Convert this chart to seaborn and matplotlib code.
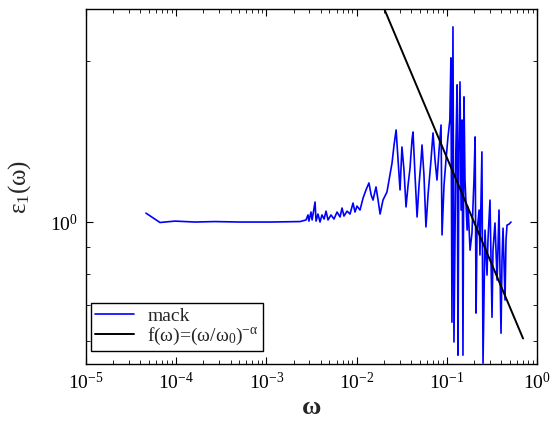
import matplotlib
matplotlib.use("Agg")
import matplotlib.pyplot as plt
import matplotlib.ticker as mticker
import seaborn as sns
import pandas as pd

omega = [4.62e-5, 6.61e-5, 9.7e-5, 1.61e-4, 2.69e-4, 5.09e-4, 1.10e-3, 2.36e-3,
         2.75e-3, 2.89e-3, 2.96e-3, 3.12e-3, 3.21e-3, 3.46e-3, 3.55e-3, 3.73e-3,
         3.93e-3, 4.13e-3, 4.36e-3, 4.58e-3, 4.82e-3, 5.20e-3, 5.61e-3, 6.07e-3,
         6.55e-3, 6.89e-3, 7.24e-3, 7.83e-3, 8.45e-3, 9.12e-3, 9.59e-3, 1.01e-2,
         1.09e-2, 1.18e-2, 1.27e-2, 1.37e-2, 1.45e-2, 1.52e-2, 1.64e-2, 1.73e-2,
         1.82e-2, 1.96e-2, 2.17e-2, 2.34e-2, 2.47e-2, 2.60e-2, 2.74e-2, 2.88e-2,
         3.03e-2, 3.18e-2, 3.35e-2, 3.53e-2, 3.72e-2, 3.91e-2, 4.11e-2, 4.22e-2,
         4.44e-2, 4.68e-2, 4.92e-2, 5.18e-2, 5.31e-2, 5.58e-2, 5.87e-2, 6.19e-2,
         6.68e-2, 7.03e-2, 7.40e-2, 7.78e-2, 8.20e-2, 8.63e-2, 8.85e-2, 9.31e-2,
         9.79e-2, 0.103, 0.108, 0.111, 0.114, 0.117, 0.120, 0.126, 0.130, 0.133,
         0.136, 0.140, 0.144, 0.148, 0.151, 0.155, 0.159, 0.168, 0.172, 0.181,
         0.190, 0.200, 0.206, 0.211, 0.216, 0.228, 0.233, 0.245, 0.252, 0.265,
         0.279, 0.286, 0.301, 0.317, 0.325, 0.342, 0.361, 0.379, 0.399, 0.409,
         0.420, 0.442, 0.453, 0.465, 0.490, 0.515]

eps1 = [1.039, 0.998, 1.004, 1.000, 1.002, 1.000, 1.000, 1.002,
        1.009, 1.031, 1.004, 1.044, 1.009, 1.090, 1.004, 1.035,
        1.000, 1.031, 1.013, 1.048, 1.009, 1.031, 1.013, 1.044,
        1.022, 1.062, 1.026, 1.048, 1.035, 1.085, 1.044, 1.071,
        1.053, 1.109, 1.148, 1.183, 1.123, 1.099, 1.163, 1.099,
        1.035, 1.099, 1.138, 1.224, 1.289, 1.393, 1.486, 1.306,
        1.148, 1.381, 1.251, 1.067, 1.173, 1.262, 1.423, 1.473,
        1.224, 1.022, 1.173, 1.306, 1.393, 1.224, 0.979, 1.123,
        1.306, 1.467, 1.306, 1.198, 1.363, 1.518, 0.946, 1.173,
        1.306, 1.442, 1.551, 2.026, 0.650, 2.315, 0.597, 1.363, 1.804, 0.564,
        1.363, 1.827, 1.053, 1.551, 0.564, 1.713, 1.198, 0.966, 1.067, 0.886,
        0.954, 1.198, 1.442, 0.676, 0.954, 1.053, 0.868, 1.352, 0.545, 0.966,
        0.796, 0.926, 1.099, 0.664, 0.886, 0.996, 0.779, 1.053, 0.620, 0.849,
        0.974, 0.715, 0.926, 0.987, 0.991, 1.000]

fit_omega = [0.015, 0.7]
fit_eps = [2.82, 0.606]

sns.set_theme(style="ticks")
plt.rcParams['font.family'] = ['Liberation Serif', 'DejaVu Serif']
plt.rcParams['mathtext.fontset'] = 'custom'
plt.rcParams['mathtext.rm'] = 'Liberation Serif'
plt.rcParams['mathtext.it'] = 'Liberation Serif:italic'
plt.rcParams['mathtext.bf'] = 'Liberation Serif:bold'

fig = plt.figure(figsize=(5.5, 4.21), dpi=100)
ax = fig.add_axes([0.1564, 0.1354, 0.82, 0.8432])

df = pd.DataFrame({"omega": omega, "eps": eps1})
dfit = pd.DataFrame({"omega": fit_omega, "eps": fit_eps})
sns.lineplot(data=df, x="omega", y="eps", sort=False, estimator=None, ax=ax,
             color="#0000FF", linewidth=1.2, label="mack")
sns.lineplot(data=dfit, x="omega", y="eps", sort=False, estimator=None, ax=ax,
             color="black", linewidth=1.4, label=r"f(ω)=(ω/ω$_{0}$)$^{-\mathrm{α}}$")

ax.set_xscale("log")
ax.set_yscale("log")
ax.set_xlim(1e-5, 1e0)
ax.set_ylim(0.543, 2.5)

ax.xaxis.set_major_locator(mticker.FixedLocator([1e-5, 1e-4, 1e-3, 1e-2, 1e-1, 1e0]))
ax.xaxis.set_major_formatter(mticker.FixedFormatter(
    [r"$10^{-5}$", r"$10^{-4}$", r"$10^{-3}$", r"$10^{-2}$", r"$10^{-1}$", r"$10^{0}$"]))
ax.xaxis.set_minor_locator(mticker.LogLocator(base=10, subs=range(2, 10), numticks=20))
ax.xaxis.set_minor_formatter(mticker.NullFormatter())
ax.yaxis.set_major_locator(mticker.FixedLocator([1.0]))
ax.yaxis.set_major_formatter(mticker.FixedFormatter([r"$10^{0}$"]))
ax.yaxis.set_minor_locator(mticker.FixedLocator([0.6, 0.7, 0.8, 0.9, 2.0]))
ax.yaxis.set_minor_formatter(mticker.NullFormatter())

ax.tick_params(which="both", direction="in", top=True, right=True, colors="black",
               labelsize=14)
ax.tick_params(which="major", length=5, width=0.8, pad=6)
ax.tick_params(which="minor", length=3, width=0.6)
for s in ax.spines.values():
    s.set_visible(True)
    s.set_color("black")
    s.set_linewidth(1.0)

ax.set_xlabel("ω", fontsize=19, fontweight="bold", labelpad=2)
ax.set_ylabel(r"ε$_{1}$(ω)", fontsize=18, labelpad=12)

leg = ax.legend(loc="lower left", bbox_to_anchor=(0.011, 0.037), borderaxespad=0,
                fontsize=14, frameon=True, fancybox=False,
                edgecolor="black", framealpha=1, handlelength=2.0,
                borderpad=0.2, labelspacing=0.05, handletextpad=0.7)
leg.get_frame().set_linewidth(1.0)

fig.savefig("out.png", dpi=100)
